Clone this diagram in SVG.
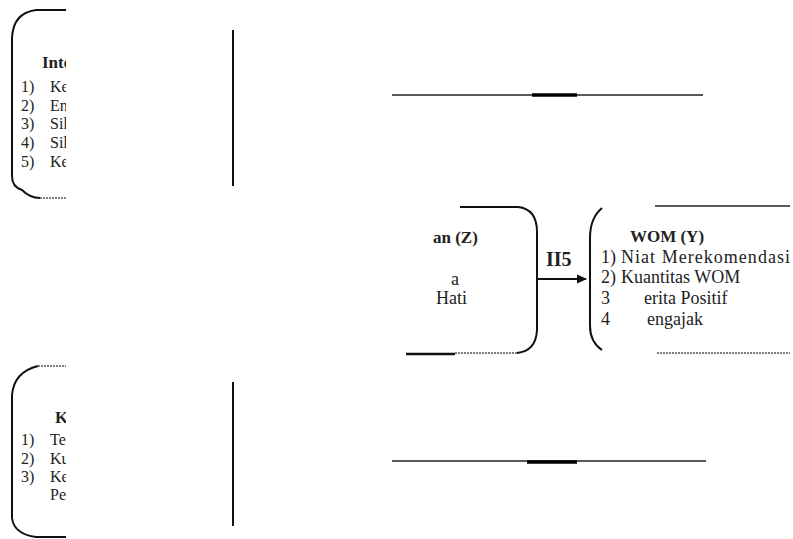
<svg xmlns="http://www.w3.org/2000/svg" width="793" height="539" viewBox="0 0 793 539">
<style>
.ln{fill:none;stroke:#111;stroke-width:2}
.thin{fill:none;stroke:#222;stroke-width:1.3}
.dot{fill:none;stroke:#555;stroke-width:1.5;stroke-dasharray:2 1}
.t{font-family:"Liberation Serif","Times New Roman",serif;font-size:16px;fill:#222}
.b{font-family:"Liberation Serif","Times New Roman",serif;font-size:17px;font-weight:bold;fill:#222}
.m{font-family:"Liberation Serif","Times New Roman",serif;font-size:18px;fill:#222}
.mb{font-family:"Liberation Serif","Times New Roman",serif;font-size:17px;font-weight:bold;fill:#222}
</style>
<defs>
<clipPath id="cl"><rect x="0" y="0" width="66" height="539"/></clipPath>
<marker id="ah" markerWidth="10" markerHeight="10" refX="9" refY="5" orient="auto" markerUnits="userSpaceOnUse"><polygon points="0,0.5 10,5 0,9.5" fill="#111"/></marker>
</defs>
<rect width="793" height="539" fill="#fff"/>

<g id="node-x1">
<path class="ln" d="M66,10 H36 Q13,13 12,38 V176 Q12,187 22,190 Q30,198 40,198"/>
<path class="dot" d="M40,198 H66"/>
<path class="ln" d="M233,30 V186"/>
<g clip-path="url(#cl)">
<text class="b" x="42" y="68">Inte</text>
<text class="t" x="21" y="92">1)</text><text class="t" x="50" y="92">Ke</text>
<text class="t" x="21" y="111">2)</text><text class="t" x="50" y="111">En</text>
<text class="t" x="21" y="129">3)</text><text class="t" x="50" y="129">Sil</text>
<text class="t" x="21" y="148">4)</text><text class="t" x="50" y="148">Sil</text>
<text class="t" x="21" y="167">5)</text><text class="t" x="50" y="167">Ke</text>
</g>
</g>

<g id="node-x2">
<path class="dot" d="M38,366 H66"/>
<path class="ln" d="M38,366 Q14,372 12,395 V518 Q14,534 36,537 H66"/>
<path class="ln" d="M233,382 V526"/>
<g clip-path="url(#cl)">
<text class="b" x="55" y="423">K</text>
<text class="t" x="21" y="445">1)</text><text class="t" x="50" y="445">Te</text>
<text class="t" x="21" y="464">2)</text><text class="t" x="50" y="464">Ku</text>
<text class="t" x="21" y="482">3)</text><text class="t" x="50" y="482">Ke</text>
<text class="t" x="50" y="500">Per</text>
</g>
</g>

<g id="line-top">
<path class="thin" d="M392,95 H703"/>
<path d="M532,95 H577" stroke="#000" stroke-width="3.5"/>
</g>
<g id="line-bottom">
<path class="thin" d="M392,461 H706"/>
<path d="M527,462 H577" stroke="#000" stroke-width="3.5"/>
</g>

<g id="node-z">
<path class="ln" d="M460,207 H518 Q537,209 537,232 V330 Q536,351 517,353"/>
<path class="dot" d="M455,353 H517"/>
<path d="M406,354 H455" stroke="#111" stroke-width="2.5"/>
<text class="mb" x="433" y="243">an (Z)</text>
<text class="m" x="451" y="285">a</text>
<text class="m" x="436" y="304">Hati</text>
</g>

<g id="node-y">
<path class="ln" d="M602,208 Q590,218 590,238 V326 Q590,342 602,350"/>
<path class="thin" d="M655,206 H790"/>
<path class="dot" d="M657,353 H790"/>
<text class="mb" x="667" y="242" text-anchor="middle">WOM (Y)</text>
<text class="m" x="601" y="263">1)</text><text class="m" x="621" y="263" textLength="169" lengthAdjust="spacing">Niat Merekomendasi</text>
<text class="m" x="601" y="283">2)</text><text class="m" x="621" y="283">Kuantitas WOM</text>
<text class="m" x="601" y="304">3</text><text class="m" x="644" y="304">erita Positif</text>
<text class="m" x="601" y="325">4</text><text class="m" x="647" y="325">engajak</text>
</g>

<g id="connectors">
<line x1="538" y1="279" x2="586" y2="279" stroke="#111" stroke-width="2" marker-end="url(#ah)"/>
<text class="mb" x="546" y="266" style="font-size:20px">II5</text>
</g>
</svg>
